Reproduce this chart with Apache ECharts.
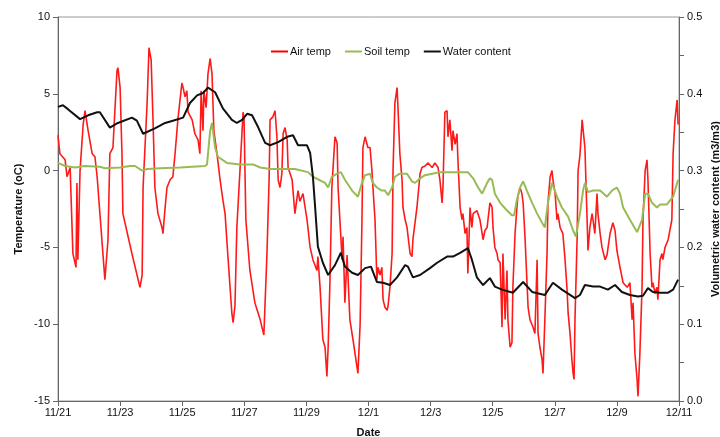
<!DOCTYPE html>
<html><head><meta charset="utf-8">
<script src="https://cdn.jsdelivr.net/npm/echarts@6/dist/echarts.min.js"></script>
<style>html,body{margin:0;padding:0;background:#fff}#c{width:720px;height:437px}</style>
</head><body><div id="c"></div>
<script>
// x values: days since 11/21 00:00
const dateLabels = ['11/21','11/23','11/25','11/27','11/29','12/1','12/3','12/5','12/7','12/9','12/11'];
const tempTicks = [-15,-10,-5,0,5,10];
const wcTicks = [0.0,0.1,0.2,0.3,0.4,0.5];

const airDays = [0.00,0.06,0.23,0.29,0.39,0.48,0.58,0.61,0.64,0.71,0.81,0.87,0.97,1.10,1.19,1.26,1.51,1.61,1.67,1.77,1.90,1.93,2.00,2.06,2.09,2.38,2.64,2.71,2.74,2.87,2.93,3.00,3.06,3.12,3.22,3.35,3.38,3.45,3.51,3.61,3.70,3.77,3.86,3.99,4.03,4.09,4.15,4.19,4.32,4.41,4.51,4.57,4.61,4.67,4.70,4.77,4.83,4.90,4.96,5.02,5.12,5.22,5.31,5.38,5.48,5.60,5.64,5.70,5.76,5.86,5.96,5.99,6.05,6.18,6.34,6.51,6.63,6.67,6.73,6.80,6.83,6.92,6.99,7.05,7.09,7.15,7.21,7.25,7.31,7.38,7.41,7.54,7.63,7.73,7.79,7.89,8.02,8.12,8.21,8.34,8.37,8.44,8.53,8.60,8.66,8.70,8.76,8.82,8.92,8.99,9.02,9.15,9.18,9.24,9.31,9.40,9.50,9.63,9.66,9.73,9.79,9.82,9.89,9.98,10.05,10.11,10.14,10.21,10.27,10.31,10.37,10.43,10.47,10.53,10.60,10.63,10.69,10.76,10.79,10.85,10.92,10.95,11.01,11.08,11.11,11.18,11.24,11.34,11.40,11.43,11.56,11.66,11.72,11.82,11.92,12.05,12.14,12.24,12.30,12.37,12.40,12.46,12.53,12.56,12.62,12.69,12.72,12.79,12.85,12.88,12.95,13.01,13.04,13.11,13.17,13.20,13.27,13.33,13.37,13.49,13.59,13.66,13.69,13.75,13.82,13.91,13.98,14.01,14.07,14.14,14.17,14.24,14.30,14.33,14.40,14.46,14.49,14.56,14.62,14.65,14.72,14.78,14.81,14.88,14.94,14.98,15.04,15.10,15.14,15.20,15.30,15.36,15.43,15.46,15.52,15.59,15.62,15.68,15.75,15.78,15.85,15.91,15.94,16.01,16.07,16.10,16.17,16.23,16.26,16.33,16.39,16.43,16.49,16.55,16.59,16.62,16.65,16.72,16.75,16.81,16.88,16.91,16.97,17.04,17.07,17.13,17.20,17.23,17.29,17.36,17.39,17.46,17.52,17.62,17.68,17.78,17.87,17.94,18.00,18.10,18.20,18.33,18.42,18.49,18.52,18.58,18.65,18.68,18.74,18.81,18.84,18.91,18.97,19.00,19.07,19.13,19.16,19.23,19.29,19.32,19.39,19.45,19.48,19.55,19.65,19.77,19.81,19.87,19.94,19.97];
const airTemp = [2.3,1.1,0.7,-0.4,0.2,-5.4,-6.3,-0.8,-5.8,0.0,3.0,3.9,2.6,1.1,0.9,-0.4,-7.1,-4.5,1.1,1.5,6.5,6.7,5.4,1.1,-2.8,-5.4,-7.6,-6.8,-1.1,4.4,8.0,7.2,3.3,-1.1,-2.8,-3.7,-4.1,-2.4,-1.1,-0.6,-0.4,1.1,3.3,5.7,5.4,4.8,5.2,3.8,3.3,2.4,2.0,1.1,5.2,2.6,5.2,4.1,6.3,7.3,6.3,2.6,1.1,-0.6,-1.9,-2.8,-5.8,-9.3,-9.9,-8.8,-3.7,0.0,3.8,3.5,-3.2,-6.5,-8.6,-9.7,-10.7,-10.6,-5.4,-0.5,3.3,3.5,3.9,2.2,-0.6,-1.1,-0.2,2.4,2.8,2.0,0.2,-0.6,-2.8,-1.3,-2.0,-1.5,-3.2,-5.0,-5.8,-6.5,-5.6,-7.6,-11.0,-11.5,-13.4,-11.5,-7.1,-1.1,2.2,1.8,-1.1,-5.8,-4.3,-8.6,-5.5,-9.7,-11.0,-12.8,-13.2,-10.0,-3.2,1.5,2.2,1.5,1.5,0.0,-1.0,-3.2,-7.1,-6.3,-6.8,-6.3,-8.4,-8.9,-9.1,-8.8,-7.6,-5.4,0.0,4.4,5.4,4.1,1.1,-0.6,-2.4,-3.2,-3.7,-5.4,-5.6,-4.5,-2.4,-0.2,0.2,0.3,0.5,0.2,0.5,0.2,-0.6,-2.1,-1.0,3.8,3.9,2.2,3.3,1.3,2.6,1.7,2.4,0.7,-2.4,-3.2,-2.8,-4.1,-3.7,-6.7,-2.4,-3.7,-2.8,-2.6,-3.2,-4.1,-4.5,-3.9,-3.7,-2.1,-2.4,-3.7,-5.0,-5.4,-5.8,-6.0,-10.2,-5.4,-9.7,-6.5,-9.7,-11.5,-11.2,-7.6,-4.1,-2.4,-1.7,-1.1,-1.5,-2.1,-4.3,-7.1,-8.9,-9.7,-10.2,-10.6,-5.8,-10.6,-11.5,-12.3,-13.2,-9.7,-5.4,-2.1,-0.4,0.0,-0.6,-1.5,-3.2,-2.8,-3.7,-3.6,-4.1,-5.8,-7.6,-9.3,-10.6,-12.3,-13.2,-13.6,-9.7,-4.3,0.0,1.0,3.3,3.3,1.5,-3.2,-5.2,-3.7,-2.8,-3.2,-4.1,-1.5,-2.8,-4.1,-5.0,-5.8,-5.5,-4.1,-3.4,-3.9,-5.2,-6.3,-7.3,-7.6,-7.3,-9.7,-8.6,-11.9,-13.6,-14.7,-11.9,-7.6,-3.2,0.0,0.7,-0.6,-5.4,-7.6,-7.3,-8.0,-7.6,-8.4,-5.8,-5.4,-5.8,-5.0,-4.5,-3.2,1.1,3.3,4.6,3.0];

const soilDays = [0.00,0.23,0.55,0.87,1.35,1.51,2.00,2.32,2.48,2.71,2.87,3.29,3.93,4.73,4.80,4.90,4.96,5.06,5.15,5.44,5.86,6.28,6.51,6.83,7.21,7.63,8.05,8.21,8.60,8.70,8.82,8.99,9.11,9.24,9.47,9.66,9.79,9.89,10.05,10.14,10.27,10.43,10.53,10.63,10.76,10.85,11.01,11.24,11.40,11.50,11.66,11.82,12.05,12.30,12.72,13.20,13.37,13.53,13.66,13.72,13.82,13.91,13.98,14.07,14.24,14.46,14.62,14.69,14.78,14.88,14.98,15.10,15.27,15.43,15.59,15.68,15.78,15.91,16.07,16.23,16.43,16.59,16.68,16.81,16.91,16.97,17.07,17.23,17.46,17.68,17.84,18.00,18.10,18.20,18.42,18.65,18.68,18.81,18.91,19.00,19.13,19.29,19.39,19.61,19.81,19.97];
const soilTemp = [0.5,0.3,0.2,0.3,0.25,0.15,0.2,0.3,0.3,0.0,0.1,0.15,0.2,0.3,0.4,2.6,3.1,1.5,0.9,0.5,0.4,0.4,0.2,0.1,0.1,0.1,-0.1,-0.4,-0.8,-1.1,-0.4,-0.2,-0.1,-0.6,-1.3,-1.7,-0.8,-0.3,-0.2,-0.8,-1.1,-1.3,-1.3,-1.6,-1.1,-0.4,-0.2,-0.2,-0.7,-0.8,-0.5,-0.3,-0.2,-0.1,-0.1,-0.1,-0.5,-1.1,-1.5,-1.6,-0.8,-0.5,-0.6,-1.5,-2.1,-2.6,-2.9,-2.9,-1.9,-1.1,-0.7,-1.3,-2.1,-2.8,-3.4,-3.7,-2.1,-0.8,-1.7,-2.4,-3.0,-3.9,-4.3,-2.8,-1.3,-0.8,-1.4,-1.3,-1.3,-1.7,-1.3,-1.1,-1.5,-2.4,-3.2,-4.0,-4.1,-3.2,-1.5,-1.5,-2.1,-2.4,-2.2,-2.2,-1.7,-0.6];

const waterDays = [0.00,0.16,0.32,0.71,0.97,1.26,1.35,1.67,1.93,2.38,2.54,2.74,3.12,3.45,3.70,4.03,4.25,4.48,4.67,4.83,5.06,5.31,5.60,5.76,5.93,6.09,6.25,6.44,6.67,6.83,7.09,7.38,7.57,7.73,8.02,8.12,8.21,8.28,8.37,8.53,8.70,8.92,9.11,9.24,9.47,9.66,9.89,10.08,10.27,10.47,10.69,10.92,11.18,11.27,11.43,11.66,11.98,12.21,12.53,12.72,12.95,13.20,13.33,13.49,13.69,13.91,14.07,14.30,14.65,14.98,15.27,15.68,15.94,16.23,16.65,16.81,16.97,17.23,17.46,17.71,17.94,18.16,18.42,18.68,18.84,19.00,19.16,19.39,19.65,19.81,19.97];
const waterContent = [0.383,0.385,0.380,0.367,0.372,0.376,0.376,0.356,0.362,0.369,0.365,0.348,0.355,0.362,0.365,0.369,0.388,0.398,0.401,0.408,0.402,0.381,0.366,0.362,0.366,0.374,0.372,0.357,0.336,0.333,0.337,0.344,0.346,0.333,0.333,0.323,0.292,0.253,0.201,0.180,0.164,0.177,0.193,0.175,0.167,0.164,0.173,0.175,0.155,0.154,0.151,0.161,0.177,0.175,0.161,0.164,0.173,0.180,0.188,0.188,0.193,0.199,0.184,0.161,0.151,0.160,0.149,0.145,0.141,0.155,0.142,0.138,0.154,0.145,0.134,0.138,0.151,0.149,0.149,0.145,0.151,0.142,0.138,0.136,0.137,0.147,0.142,0.141,0.141,0.145,0.158];

const zip = (a, b) => a.map((v, i) => [v, b[i]]);
const font = 'Liberation Sans, Arial, sans-serif';
const axisCol = '#666';

const chart = echarts.init(document.getElementById('c'), null, {renderer: 'canvas'});
chart.setOption({
  animation: false,
  backgroundColor: '#fff',
  grid: {left: 58, right: 41, top: 17, bottom: 36, show: true, borderColor: '#999', borderWidth: 1,
         containLabel: false, outerBoundsMode: 'none'},
  legend: {
    top: 41, left: 266, itemGap: 14, itemWidth: 17, itemHeight: 2, icon: 'rect',
    textStyle: {fontFamily: font, fontSize: 11, color: '#111', padding: [0,0,0,-3]},
    data: ['Air temp', 'Soil temp', 'Water content']
  },
  xAxis: {
    type: 'value', min: 0, max: 20, interval: 2,
    name: 'Date', nameLocation: 'middle', nameGap: 26, nameMoveOverlap: false,
    nameTextStyle: {fontFamily: font, fontSize: 11, fontWeight: 'bold', color: '#111'},
    axisLine: {onZero: false, lineStyle: {color: axisCol}},
    axisTick: {show: true, length: 5, lineStyle: {color: axisCol}},
    axisLabel: {fontFamily: font, fontSize: 11, color: '#111', margin: 6,
      formatter: v => dateLabels[Math.round(v / 2)] || ''},
    splitLine: {show: false}
  },
  yAxis: [{
    type: 'value', min: tempTicks[0], max: tempTicks[tempTicks.length-1], interval: 5,
    name: 'Temperature (oC)', nameLocation: 'middle', nameGap: 34, nameRotate: 90, nameMoveOverlap: false,
    nameTextStyle: {fontFamily: font, fontSize: 11, fontWeight: 'bold', color: '#111'},
    axisLine: {show: true, onZero: false, lineStyle: {color: axisCol}},
    axisTick: {show: true, length: 5, lineStyle: {color: axisCol}},
    axisLabel: {fontFamily: font, fontSize: 11, color: '#111', margin: 8},
    splitLine: {show: false}
  }, {
    type: 'value', min: wcTicks[0], max: wcTicks[wcTicks.length-1], interval: 0.05,
    position: 'right',
    name: 'Volumetric water content (m3/m3)', nameLocation: 'middle', nameGap: 31, nameRotate: 90, nameMoveOverlap: false,
    nameTextStyle: {fontFamily: font, fontSize: 11, fontWeight: 'bold', color: '#111'},
    axisLine: {show: true, onZero: false, lineStyle: {color: axisCol}},
    axisTick: {show: true, length: 5, lineStyle: {color: axisCol}},
    axisLabel: {fontFamily: font, fontSize: 11, color: '#111', margin: 8,
      formatter: v => { const k = Math.round(v * 100); return k % 10 === 0 ? (k/100).toFixed(1) : ''; }},
    splitLine: {show: false}
  }],
  series: [{
    name: 'Air temp', type: 'line', yAxisIndex: 0, showSymbol: false, symbol: 'none',
    data: zip(airDays, airTemp), color: '#ff0000', lineStyle: {color: '#ff1a1a', width: 1.6}
  }, {
    name: 'Soil temp', type: 'line', yAxisIndex: 0, showSymbol: false, symbol: 'none',
    data: zip(soilDays, soilTemp), color: '#99bb55', lineStyle: {color: '#99bb55', width: 2}
  }, {
    name: 'Water content', type: 'line', yAxisIndex: 1, showSymbol: false, symbol: 'none',
    data: zip(waterDays, waterContent), color: '#111', lineStyle: {color: '#111', width: 2}
  }]
});
</script>
</body></html>
